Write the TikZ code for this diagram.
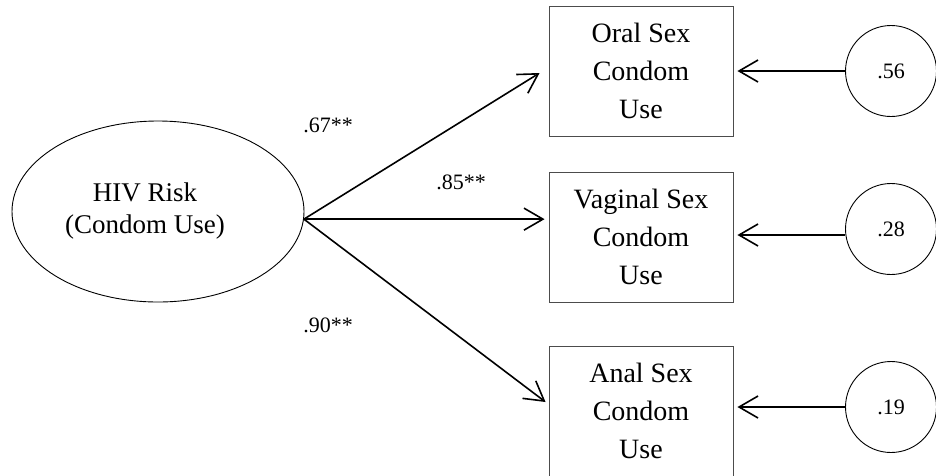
\documentclass[tikz,border=0pt]{standalone}
\usepackage{fontspec}
\setmainfont{Liberation Serif}
\usetikzlibrary{arrows.meta,shapes.geometric}
\begin{document}
\begin{tikzpicture}[x=1pt,y=-1pt,
  path/.style={line width=1.6pt,-{Straight Barb[length=19pt,width=22pt]}},
  obsbox/.style={draw=black!70,line width=0.9pt,minimum width=184pt,minimum height=130pt,
    align=center,font=\fontsize{28}{38}\selectfont,inner sep=0pt},
  latent/.style={draw,ellipse,line width=0.9pt,minimum width=292pt,minimum height=181pt,inner sep=0pt},
  errc/.style={draw,circle,line width=0.9pt,minimum size=91pt,inner sep=0pt,font=\fontsize{22}{26}\selectfont},
  coef/.style={font=\fontsize{22}{26}\selectfont,inner sep=0pt}]
\useasboundingbox (0,0) rectangle (936,475);

% latent factor
\node[latent] (hiv) at (158,211.5) {};
\node[align=center,font=\fontsize{27}{32}\selectfont,inner sep=0pt] (hivtext) at (145,211) {HIV Risk\\(Condom Use)};
\coordinate (src) at (hiv.-3.4);

% observed indicators
\node[obsbox] (oral) at (641,71) {Oral Sex\\Condom\\Use};
\node[obsbox] (vag) at (641,237) {Vaginal Sex\\Condom\\Use};
\node[obsbox] (anal) at (641,411) {Anal Sex\\Condom\\Use};

% error terms
\node[errc] (e1) at (891,71) {.56};
\node[errc] (e2) at (891,229) {.28};
\node[errc] (e3) at (891,407) {.19};

% loadings
\draw[path] (src) -- ([xshift=-9pt,yshift=-2pt]oral.west);
\draw[path] (src) -- ([xshift=-4pt]src -| vag.west);
\draw[path] (src) -- ([xshift=-3pt,yshift=9pt]anal.west);

\node[coef] (l1) at (328,125) {.67**};
\node[coef] (l2) at (461,182) {.85**};
\node[coef] (l3) at (328,325) {.90**};

% residual paths
\draw[path,shorten >=4pt] (e1.west) -- (e1.west -| oral.east);
\draw[path,shorten >=4pt] ([yshift=-6pt]e2.west) -- ([yshift=-6pt]e2.west -| vag.east);
\draw[path,shorten >=4pt] (e3.west) -- (e3.west -| anal.east);
\end{tikzpicture}
\end{document}
